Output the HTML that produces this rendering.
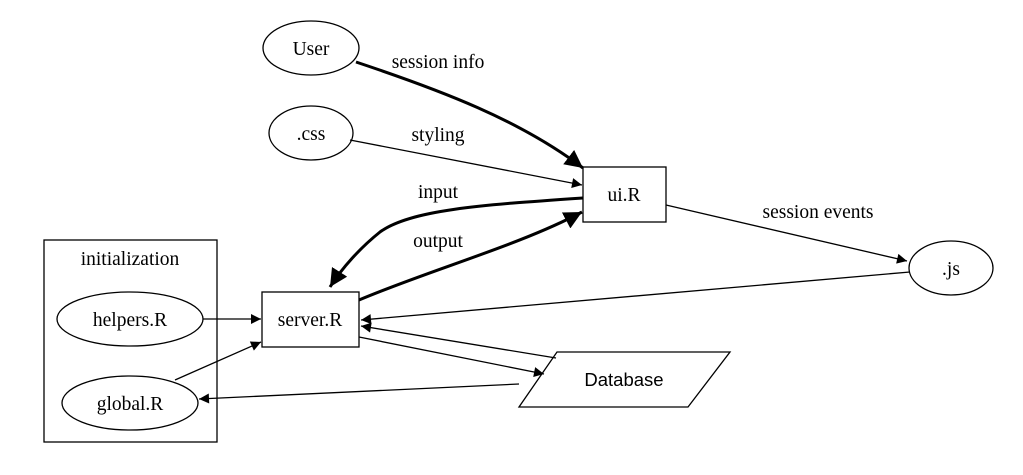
<!DOCTYPE html>
<html><head><meta charset="utf-8"><style>
html,body{margin:0;padding:0;background:#fff;}
svg{display:block;}
text{font-family:"Liberation Serif",serif;font-size:19.5px;fill:#000;}
</style></head><body>
<svg width="1023" height="475" viewBox="0 0 1023 475" xmlns="http://www.w3.org/2000/svg">
<defs>
<marker id="a" viewBox="0 0 10 10" refX="10" refY="5" markerWidth="11" markerHeight="10" markerUnits="userSpaceOnUse" orient="auto"><path d="M0,0 L10,5 L0,10 z" fill="#000"/></marker>
<marker id="b" viewBox="0 0 10 10" refX="10" refY="5" markerWidth="6" markerHeight="6" orient="auto"><path d="M0,0 L10,5 L0,10 z" fill="#000"/></marker>
</defs>
<g fill="none" stroke="#000" stroke-width="1.3">
<ellipse cx="311" cy="48" rx="48" ry="27"/>
<ellipse cx="311" cy="133" rx="42" ry="27"/>
<rect x="583" y="167" width="83" height="55"/>
<ellipse cx="951" cy="268" rx="42" ry="27"/>
<rect x="44" y="240" width="173" height="202"/>
<ellipse cx="130" cy="319" rx="73" ry="27"/>
<ellipse cx="130" cy="403" rx="68" ry="27"/>
<rect x="262" y="292" width="97" height="55"/>
<polygon points="557,352 730,352 688,407 519,407"/>
</g>
<g fill="none" stroke="#000">
<path d="M356,62 C440,90 520,120 583,168" stroke-width="3" marker-end="url(#b)"/>
<path d="M350,140 L582,185" stroke-width="1.3" marker-end="url(#a)"/>
<path d="M583,198 C480,205 410,210 380,232 C360,248 342,268 330,287" stroke-width="3" marker-end="url(#b)"/>
<path d="M359,300 C430,270 520,245 582,212" stroke-width="3" marker-end="url(#b)"/>
<path d="M666,205 L907,261" stroke-width="1.3" marker-end="url(#a)"/>
<path d="M910,272 L361,320" stroke-width="1.3" marker-end="url(#a)"/>
<path d="M203,319 L261,319" stroke-width="1.3" marker-end="url(#a)"/>
<path d="M175,380 L261,342" stroke-width="1.3" marker-end="url(#a)"/>
<path d="M359,337 L544,374" stroke-width="1.3" marker-end="url(#a)"/>
<path d="M556,358 L361,326" stroke-width="1.3" marker-end="url(#a)"/>
<path d="M519,384 L199,399" stroke-width="1.3" marker-end="url(#a)"/>
</g>
<g text-anchor="middle">
<text x="311" y="55">User</text>
<text x="311" y="140">.css</text>
<text x="624" y="201">ui.R</text>
<text x="951" y="275">.js</text>
<text x="130" y="265">initialization</text>
<text x="130" y="326">helpers.R</text>
<text x="130" y="410">global.R</text>
<text x="310" y="326">server.R</text>
<text x="624" y="386" style="font-family:'Liberation Sans',sans-serif;font-size:18.5px">Database</text>
<text x="438" y="68">session info</text>
<text x="438" y="141">styling</text>
<text x="438" y="198">input</text>
<text x="438" y="247">output</text>
<text x="818" y="218">session events</text>
</g>
</svg>
</body></html>
